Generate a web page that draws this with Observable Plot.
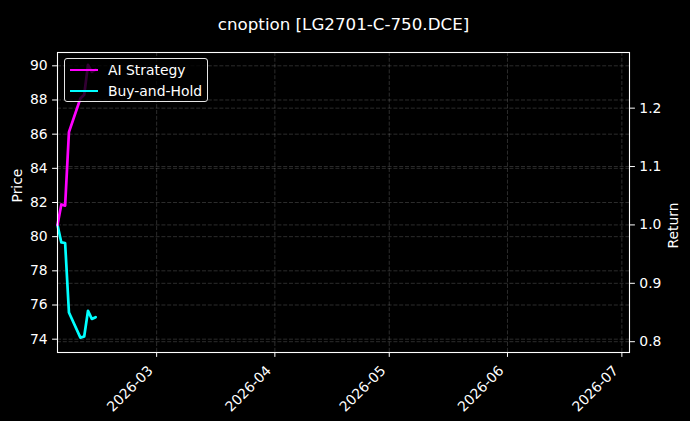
<!DOCTYPE html>
<html>
<head>
<meta charset="utf-8">
<script src="https://cdn.jsdelivr.net/npm/d3@7"></script>
<script src="https://cdn.jsdelivr.net/npm/@observablehq/plot@0.6"></script>
<style>
  html, body { margin: 0; padding: 0; background: #000; }
  #wrap { position: relative; width: 690px; height: 421px; background: #000; font-family: "DejaVu Sans", sans-serif; }
  #legend { position: absolute; left: 64px; top: 58px; width: 144px; height: 44px; box-sizing: border-box;
    border: 1px solid #e6e6e6; border-radius: 3px; background: rgba(0,0,0,0.8); }
  .lg-row { position: absolute; left: 0; height: 20px; display: flex; align-items: center; }
  .lg-swatch { width: 28px; height: 2.6px; margin-left: 5px; margin-right: 10px; }
  .lg-text { color: #fff; font-size: 13.9px; white-space: nowrap; }
</style>
</head>
<body>
<div id="wrap"></div>
<script>
// ---- data ----
const title = "cnoption [LG2701-C-750.DCE]";
const dates = ["2026-02-03","2026-02-04","2026-02-05","2026-02-06","2026-02-09","2026-02-10","2026-02-11","2026-02-12","2026-02-13"];
const aiStrategy = [1.000, 1.035, 1.033, 1.159, 1.2165, 1.223, 1.274, 1.262, 1.266];
const buyAndHold = [1.000, 0.970, 0.969, 0.850, 0.807, 0.809, 0.853, 0.839, 0.842];
const seriesNames = ["AI Strategy", "Buy-and-Hold"];
const seriesColors = ["#ff00ff", "#00ffff"];
const xTickLabels = ["2026-03","2026-04","2026-05","2026-06","2026-07"];
const priceTicks = [74, 76, 78, 80, 82, 84, 86, 88, 90];
const returnTicks = [0.8, 0.9, 1.0, 1.1, 1.2];
const xDomain = ["2026-02-03", "2026-07-03"];
const priceDomain = [73.22, 90.78];
const returnDomain = [0.7815, 1.2953];

// ---- build ----
const parse = d3.utcParse("%Y-%m-%d");
const parseM = d3.utcParse("%Y-%m");
const rows = dates.map((d, i) => ({date: parse(d), ai: aiStrategy[i], bh: buyAndHold[i]}));
const monthTicks = xTickLabels.map(parseM);
const priceToReturn = d3.scaleLinear().domain(priceDomain).range(returnDomain);
const pricePos = priceTicks.map(p => priceToReturn(p));
const fmtPrice = d => String(Math.round(priceToReturn.invert(d)));

const gridStyle = {stroke: "#ffffff", strokeOpacity: 0.22, strokeWidth: 0.8, strokeDasharray: "4,1.8"};

const chart = Plot.plot({
  width: 690,
  height: 421,
  marginTop: 52,
  marginBottom: 69,
  marginLeft: 57,
  marginRight: 61,
  style: {background: "#000", color: "#fff", fontFamily: "DejaVu Sans", fontSize: "13.9px", overflow: "visible"},
  x: {type: "utc", domain: xDomain.map(parse)},
  y: {domain: returnDomain},
  marks: [
    Plot.gridX(monthTicks, gridStyle),
    Plot.gridY(pricePos, gridStyle),
    Plot.gridY(returnTicks, gridStyle),
    Plot.line(rows, {x: "date", y: "bh", stroke: seriesColors[1], strokeWidth: 2.7}),
    Plot.line(rows, {x: "date", y: "ai", stroke: seriesColors[0], strokeWidth: 2.7}),
    Plot.frame({stroke: "#fff", strokeWidth: 1.1}),
    // x tick marks
    Plot.axisX(monthTicks, {anchor: "bottom", tickSize: 4.9, tickFormat: () => "", fill: "none",
      label: null, stroke: "#fff"}),
    // x tick labels, rotated
    Plot.axisX(monthTicks, {anchor: "bottom", tickFormat: d3.utcFormat("%Y-%m"), tickRotate: -45,
      tickSize: 0, tickPadding: 8.9, dx: -6, dy: 7, label: null, stroke: "none", fill: "#fff", fontSize: 13.9}),
    Plot.axisY(pricePos, {anchor: "left", tickFormat: fmtPrice, tickSize: 4.9, tickPadding: 4.9,
      label: null, stroke: "#fff", fill: "#fff", fontSize: 13.9}),
    Plot.axisY(returnTicks, {anchor: "right", tickFormat: d3.format(".1f"), tickSize: 4.9, tickPadding: 4.9,
      label: null, stroke: "#fff", fill: "#fff", fontSize: 13.9}),
    Plot.text(["Price"], {frameAnchor: "left", dx: -40, rotate: -90, fill: "#fff", fontSize: 13.9}),
    Plot.text(["Return"], {frameAnchor: "right", dx: 44, rotate: -90, fill: "#fff", fontSize: 13.9}),
    Plot.text([title], {frameAnchor: "top", dy: -34, fill: "#fff", fontSize: 16.7})
  ]
});

const wrap = document.getElementById("wrap");
wrap.appendChild(chart);

// legend (matplotlib-style box overlaying the lines)
const legend = document.createElement("div");
legend.id = "legend";
seriesNames.forEach((name, i) => {
  const row = document.createElement("div");
  row.className = "lg-row";
  row.style.top = (i === 0 ? 1 : 22) + "px";
  const sw = document.createElement("div");
  sw.className = "lg-swatch";
  sw.style.background = seriesColors[i];
  const tx = document.createElement("span");
  tx.className = "lg-text";
  tx.textContent = name;
  row.appendChild(sw);
  row.appendChild(tx);
  legend.appendChild(row);
});
wrap.appendChild(legend);
</script>
</body>
</html>
